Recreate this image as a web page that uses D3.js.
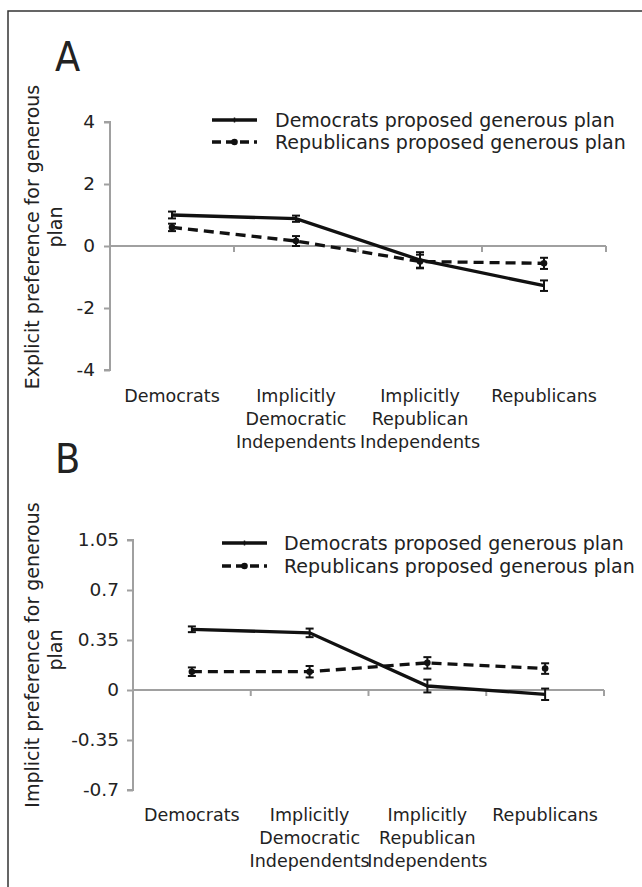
<!DOCTYPE html>
<html>
<head>
<meta charset="utf-8">
<script src="https://cdn.jsdelivr.net/npm/d3@7"></script>
<style>
  html, body { margin: 0; padding: 0; background: #fff; }
  svg { display: block; }
  text { font-family: "DejaVu Sans", Verdana, sans-serif; fill: #222; }
  .panel-tag { font-family: "Liberation Sans Narrow", "DejaVu Sans Condensed", "Roboto Condensed", sans-serif; font-stretch: condensed; }
</style>
</head>
<body>
<script>
// Categories (x axis), with line breaks for the tick labels
const categories = ["Democrats", "Implicitly Democratic Independents", "Implicitly Republican Independents", "Republicans"];
const categoryLines = [["Democrats"], ["Implicitly", "Democratic", "Independents"], ["Implicitly", "Republican", "Independents"], ["Republicans"]];
const seriesNames = ["Democrats proposed generous plan", "Republicans proposed generous plan"];

// Panel A: explicit preference (means and error-bar half-widths)
const explicitDemProposed = [1.00, 0.88, -0.45, -1.28];
const explicitDemProposedErr = [0.11, 0.10, 0.25, 0.17];
const explicitRepProposed = [0.60, 0.16, -0.50, -0.56];
const explicitRepProposedErr = [0.12, 0.16, 0.22, 0.18];
const explicitTicks = [4, 2, 0, -2, -4];

// Panel B: implicit preference
const implicitDemProposed = [0.425, 0.40, 0.028, -0.03];
const implicitDemProposedErr = [0.02, 0.03, 0.045, 0.04];
const implicitRepProposed = [0.128, 0.128, 0.19, 0.15];
const implicitRepProposedErr = [0.03, 0.04, 0.04, 0.037];
const implicitTicks = [1.05, 0.7, 0.35, 0, -0.35, -0.7];

const W = 642, H = 887;
const svg = d3.select("body").append("svg").attr("width", W).attr("height", H);

// Outer frame (only left and top edges fall inside the canvas)
svg.append("rect").attr("x", 8).attr("y", 11).attr("width", 700).attr("height", 950)
  .attr("fill", "none").attr("stroke", "#333").attr("stroke-width", 1.5);

const axisColor = "#a0a0a0";
const DASH = "10,6";

function drawPanel(cfg) {
  const g = svg.append("g");
  const y = d3.scaleLinear().domain(cfg.domain).range([cfg.yBottom, cfg.yTop]);
  const x = d3.scaleBand().domain(categories).range([cfg.xLeft, cfg.xRight]);
  const cx = d => x(d) + x.bandwidth() / 2;

  // y axis
  const yAxis = g.append("g").attr("transform", `translate(${cfg.xLeft},0)`)
    .call(d3.axisLeft(y).tickValues(cfg.ticks).tickSize(6).tickPadding(cfg.tickPad)
      .tickFormat(d => String(d)));
  yAxis.select(".domain").attr("stroke", axisColor).attr("stroke-width", 2)
    .attr("d", `M-6,${y(cfg.domain[1])}H0V${y(cfg.domain[0])}H-6`);
  yAxis.selectAll(".tick line").attr("stroke", axisColor).attr("stroke-width", 2);
  yAxis.selectAll(".tick text").attr("font-size", cfg.tickFont).attr("fill", "#222")
    .attr("font-family", "DejaVu Sans, Verdana, sans-serif");

  // x axis along zero with ticks between categories
  const y0 = y(0);
  g.append("line").attr("x1", cfg.xLeft).attr("x2", cfg.xRight).attr("y1", y0).attr("y2", y0)
    .attr("stroke", axisColor).attr("stroke-width", 2);
  const bounds = categories.map(c => x(c) + x.bandwidth());
  g.selectAll(".xt").data(bounds).join("line")
    .attr("x1", d => d).attr("x2", d => d).attr("y1", y0).attr("y2", y0 + 6)
    .attr("stroke", axisColor).attr("stroke-width", 2);

  // category labels
  categories.forEach((c, i) => {
    const t = g.append("text").attr("x", cx(c)).attr("y", cfg.labelY)
      .attr("text-anchor", "middle").attr("font-size", cfg.catFont);
    categoryLines[i].forEach((ln, j) => {
      t.append("tspan").attr("x", cx(c)).attr("dy", j === 0 ? 0 : cfg.catLine).text(ln);
    });
  });

  // axis title (two lines, rotated)
  cfg.title.forEach((ln, j) => {
    g.append("text")
      .attr("transform", `translate(${cfg.titleX[j]},${cfg.titleY[j]}) rotate(-90)`)
      .attr("text-anchor", "middle").attr("font-size", cfg.titleFont).text(ln);
  });

  // panel tag
  g.append("text").attr("class", "panel-tag").attr("x", 55).attr("y", cfg.tagY)
    .attr("font-size", 41).text(cfg.tag);

  // series
  const series = [
    { vals: cfg.dem, err: cfg.demErr, dash: null },
    { vals: cfg.rep, err: cfg.repErr, dash: DASH }
  ];
  const line = d3.line().x((d, i) => cx(categories[i])).y(d => y(d));
  series.forEach(s => {
    g.append("path").datum(s.vals).attr("d", line).attr("fill", "none")
      .attr("stroke", "#111").attr("stroke-width", 3.3)
      .attr("stroke-dasharray", s.dash);
    s.vals.forEach((v, i) => {
      const px = cx(categories[i]);
      const hi = y(v + s.err[i]), lo = y(v - s.err[i]);
      g.append("line").attr("x1", px).attr("x2", px).attr("y1", hi).attr("y2", lo)
        .attr("stroke", "#111").attr("stroke-width", 2);
      [hi, lo].forEach(yy => g.append("line").attr("x1", px - 4).attr("x2", px + 4)
        .attr("y1", yy).attr("y2", yy).attr("stroke", "#111").attr("stroke-width", 2));
      if (s.dash) g.append("circle").attr("cx", px).attr("cy", y(v)).attr("r", 3.3).attr("fill", "#111");
    });
  });

  // legend
  seriesNames.forEach((name, i) => {
    const ly = cfg.legY + i * cfg.legGap;
    g.append("line").attr("x1", cfg.legX).attr("x2", cfg.legX + 45).attr("y1", ly).attr("y2", ly)
      .attr("stroke", "#111").attr("stroke-width", 3.3)
      .attr("stroke-dasharray", i === 1 ? "9,5" : null);
    if (i === 1) g.append("circle").attr("cx", cfg.legX + 22.5).attr("cy", ly).attr("r", 3.3).attr("fill", "#111");
    else g.append("line").attr("x1", cfg.legX + 22.5).attr("x2", cfg.legX + 22.5)
      .attr("y1", ly - 2.5).attr("y2", ly + 2.5).attr("stroke", "#111").attr("stroke-width", 1.5);
    g.append("text").attr("x", cfg.legTextX).attr("y", ly).attr("dy", "0.35em")
      .attr("font-size", cfg.legFont).text(name);
  });
}

drawPanel({
  tag: "A", tagY: 71,
  domain: [-4, 4], ticks: explicitTicks, yTop: 122, yBottom: 370,
  xLeft: 110, xRight: 606, tickPad: 9,
  dem: explicitDemProposed, demErr: explicitDemProposedErr,
  rep: explicitRepProposed, repErr: explicitRepProposedErr,
  tickFont: 18.5, catFont: 17.5, catLine: 23, labelY: 402,
  title: ["Explicit preference for generous", "plan"], titleX: [39, 62], titleY: [237, 227], titleFont: 19,
  legX: 212, legY: 120, legGap: 22, legTextX: 275, legFont: 19
});

drawPanel({
  tag: "B", tagY: 473,
  domain: [-0.7, 1.05], ticks: implicitTicks, yTop: 540, yBottom: 790,
  xLeft: 133, xRight: 604, tickPad: 8,
  dem: implicitDemProposed, demErr: implicitDemProposedErr,
  rep: implicitRepProposed, repErr: implicitRepProposedErr,
  tickFont: 18.5, catFont: 17.5, catLine: 23, labelY: 821,
  title: ["Implicit preference for generous", "plan"], titleX: [39, 62], titleY: [655, 650], titleFont: 19,
  legX: 222, legY: 543, legGap: 23, legTextX: 284, legFont: 19
});
</script>
</body>
</html>
